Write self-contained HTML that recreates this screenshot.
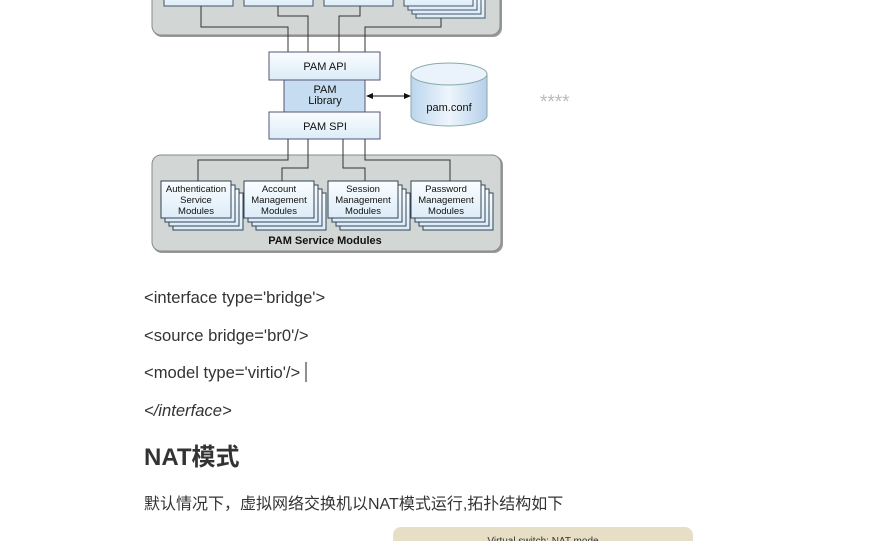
<!DOCTYPE html>
<html><head><meta charset="utf-8"><style>
body{margin:0;background:#fff;width:877px;height:541px;overflow:hidden;position:relative;font-family:"Liberation Sans","Noto Sans CJK SC",sans-serif;}
.t{position:absolute;left:144px;color:#333;font-size:16.6px;white-space:nowrap;}
</style></head><body>
<svg width="877" height="541" style="position:absolute;left:0;top:0" font-family="Liberation Sans, sans-serif">
<defs>
<linearGradient id="bx" x1="0" y1="0" x2="0" y2="1"><stop offset="0" stop-color="#fafdff"/><stop offset="1" stop-color="#dcecf8"/></linearGradient>
<linearGradient id="cy" x1="0" y1="0" x2="1" y2="0"><stop offset="0" stop-color="#bcd6ee"/><stop offset="0.5" stop-color="#eef5fc"/><stop offset="1" stop-color="#b6d0ea"/></linearGradient>
</defs>
<rect x="153" y="-20" width="349" height="57" rx="9" fill="#999"/>
<rect x="152" y="-20" width="348" height="55" rx="9" fill="#d2d7d6" stroke="#888" stroke-width="1"/>
<rect x="164" y="-10" width="69" height="16" fill="url(#bx)" stroke="#456"/>
<rect x="244" y="-10" width="69" height="16" fill="url(#bx)" stroke="#456"/>
<rect x="324" y="-10" width="69" height="16" fill="url(#bx)" stroke="#456"/>
<rect x="416" y="-10" width="69" height="28" fill="url(#bx)" stroke="#456"/>
<rect x="412" y="-10" width="69" height="24" fill="url(#bx)" stroke="#456"/>
<rect x="408" y="-10" width="69" height="20" fill="url(#bx)" stroke="#456"/>
<rect x="404" y="-10" width="69" height="16" fill="url(#bx)" stroke="#456"/>
<g fill="none" stroke="#333" stroke-width="1">
<polyline points="201,6 201,27 288,27 288,52"/>
<polyline points="278,6 278,16 308,16 308,52"/>
<polyline points="360,6 360,16 339,16 339,52"/>
<polyline points="441,18 441,27 365,27 365,52"/>
</g>
<rect x="269" y="52" width="111" height="28" fill="url(#bx)" stroke="#557"/>
<rect x="284" y="80" width="81" height="32" fill="#c6ddf1" stroke="#557"/>
<rect x="269" y="112" width="111" height="27" fill="url(#bx)" stroke="#557"/>
<text x="325" y="70" font-size="11" text-anchor="middle" fill="#111">PAM API</text>
<text x="325" y="93" font-size="11" text-anchor="middle" fill="#111">PAM</text>
<text x="325" y="104" font-size="11" text-anchor="middle" fill="#111">Library</text>
<text x="325" y="130" font-size="11" text-anchor="middle" fill="#111">PAM SPI</text>
<line x1="372" y1="96" x2="405" y2="96" stroke="#111"/>
<polygon points="366,96 373,93 373,99" fill="#111"/>
<polygon points="411,96 404,93 404,99" fill="#111"/>
<path d="M411,74 L411,116 A38,10 0 0 0 487,116 L487,74" fill="url(#cy)" stroke="#8aa"/>
<ellipse cx="449" cy="74" rx="38" ry="11" fill="#eaf3fb" stroke="#8aa"/>
<text x="449" y="111" font-size="11" text-anchor="middle" fill="#111">pam.conf</text>
<text x="540" y="108" font-size="19" fill="#bbb">****</text>
<rect x="153" y="156" width="350" height="97" rx="9" fill="#999"/>
<rect x="152" y="155" width="349" height="96" rx="9" fill="#d2d7d6" stroke="#888"/>
<g fill="none" stroke="#333">
<polyline points="288,139 288,160 198,160 198,181"/>
<polyline points="308,139 308,168 282,168 282,181"/>
<polyline points="343,139 343,168 365,168 365,181"/>
<polyline points="365,139 365,160 450,160 450,181"/>
</g>
<g stroke="#345" fill="url(#bx)">
<rect x="173" y="193" width="70" height="37"/><rect x="169" y="189" width="70" height="37"/><rect x="165" y="185" width="70" height="37"/><rect x="161" y="181" width="70" height="37"/>
<rect x="256" y="193" width="70" height="37"/><rect x="252" y="189" width="70" height="37"/><rect x="248" y="185" width="70" height="37"/><rect x="244" y="181" width="70" height="37"/>
<rect x="340" y="193" width="70" height="37"/><rect x="336" y="189" width="70" height="37"/><rect x="332" y="185" width="70" height="37"/><rect x="328" y="181" width="70" height="37"/>
<rect x="423" y="193" width="70" height="37"/><rect x="419" y="189" width="70" height="37"/><rect x="415" y="185" width="70" height="37"/><rect x="411" y="181" width="70" height="37"/>
</g>
<g font-size="9.5" text-anchor="middle" fill="#111">
<text x="196" y="192">Authentication</text><text x="196" y="203">Service</text><text x="196" y="214">Modules</text>
<text x="279" y="192">Account</text><text x="279" y="203">Management</text><text x="279" y="214">Modules</text>
<text x="363" y="192">Session</text><text x="363" y="203">Management</text><text x="363" y="214">Modules</text>
<text x="446" y="192">Password</text><text x="446" y="203">Management</text><text x="446" y="214">Modules</text>
</g>
<text x="325" y="244" font-size="11" font-weight="bold" text-anchor="middle" fill="#111">PAM Service Modules</text>
<rect x="393" y="527" width="300" height="30" rx="8" fill="#e6dfc6"/>
<text x="543" y="544" font-size="10" text-anchor="middle" fill="#333">Virtual switch: NAT mode</text>
<line x1="306" y1="362" x2="306" y2="382" stroke="#222"/>
</svg>
<div class="t" style="top:288px">&lt;interface type='bridge'&gt;</div>
<div class="t" style="top:326px">&lt;source bridge='br0'/&gt;</div>
<div class="t" style="top:363px">&lt;model type='virtio'/&gt;</div>
<div class="t" style="top:401px;font-style:italic">&lt;/interface&gt;</div>
<div class="t" style="top:437px;font-size:24px;font-weight:bold">NAT模式</div>
<div class="t" style="top:490px;font-size:16px">默认情况下，虚拟网络交换机以NAT模式运行,拓扑结构如下</div>
</body></html>
